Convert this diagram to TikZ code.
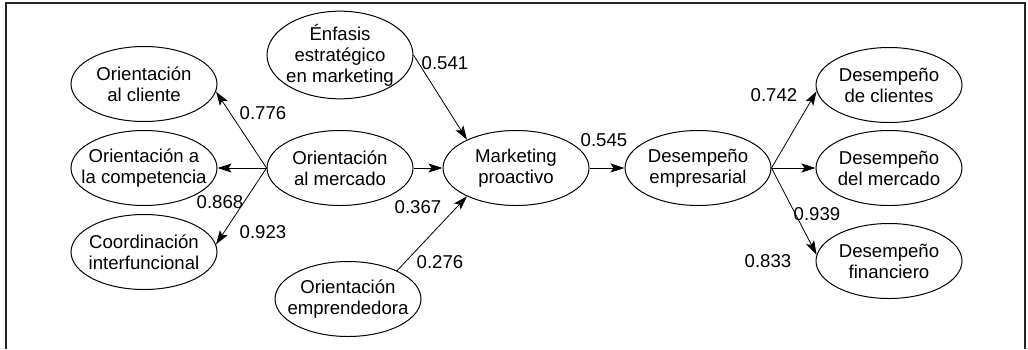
\documentclass[tikz,border=0pt]{standalone}
\usepackage{fontspec}
\setmainfont{Liberation Sans}
\usepackage{tikz}
\usetikzlibrary{positioning}
\usetikzlibrary{shapes.geometric}
\usetikzlibrary{arrows.meta}

\begin{document}
\begin{tikzpicture}[
        x = 1pt, y = 1pt,
        font = \fontsize{9.3}{10.5}\selectfont,
        var/.style = {draw, ellipse, align=center, minimum width=73pt, minimum height=37.5pt, inner xsep=-14pt, inner ysep=0pt, line width=0.5pt},
        lbl/.style = {inner sep=0pt},
        >={Stealth[length=7pt, width=4.5pt, inset=1.5pt]}
        ]
        \useasboundingbox (0,0) rectangle (514,-174.5);
        \draw[line width=1pt, black!85] (3,-174.5) -- (3,-1.5) -- (512.7,-1.5) -- (512.7,-174.5);
        \node[var] (om) at (170,-84) {Orientación\\al mercado};
        \node[var] (oc) [node distance=98pt, left of=om] {Orientación a\\la competencia};
        \node[var] (cl) [node distance=42pt, above of=oc] {Orientación\\al cliente};
        \node[var] (co) [node distance=42pt, below of=oc] {Coordinación\\interfuncional};
        \node[var] (en) [node distance=56.5pt, above of=om] {Énfasis\\estratégico\\en marketing};
        \node[var] (ep) [node distance=65.5pt, below of=om, xshift=4pt] {Orientación\\emprendedora};
        \node[var] (mp) [node distance=88pt, right of=om] {Marketing\\proactivo};
        \node[var] (de) [node distance=91pt, right of=mp] {Desempeño\\empresarial};
        \node[var] (dm) [node distance=95.5pt, right of=de] {Desempeño\\del mercado};
        \node[var] (dc) [node distance=41.5pt, above of=dm] {Desempeño\\de clientes};
        \node[var] (df) [node distance=46.5pt, below of=dm] {Desempeño\\financiero};
        % loadings and paths
        \node[lbl] (l776) at (131.5,-56.5) {0.776};
        \node[lbl] (l868) at (110,-101) {0.868};
        \node[lbl] (l923) at (131.5,-116) {0.923};
        \node[lbl] (l541) at (222.5,-31.5) {0.541};
        \node[lbl] (l367) at (209,-103.5) {0.367};
        \node[lbl] (l276) at (220,-131) {0.276};
        \node[lbl] (l545) at (302,-70) {0.545};
        \node[lbl] (l742) at (387,-47.5) {0.742};
        \node[lbl] (l939) at (408.5,-107) {0.939};
        \node[lbl] (l833) at (384,-130.5) {0.833};
        \draw[->] (om.west) -- (cl.-6);
        \draw[->] (om.west) -- (oc.east);
        \draw[->] (om.west) -- (co.6);
        \draw[->] (om.east) -- (mp.west);
        \draw[->] (en.east) -- (mp.150);
        \draw[->] (ep.30) -- (mp.210);
        \draw[->] (mp.east) -- (de.west);
        \draw[->] (de.east) -- (dc.185);
        \draw[->] (de.east) -- (dm.west);
        \draw[->] (de.east) -- (df.175);
\end{tikzpicture}
\end{document}
